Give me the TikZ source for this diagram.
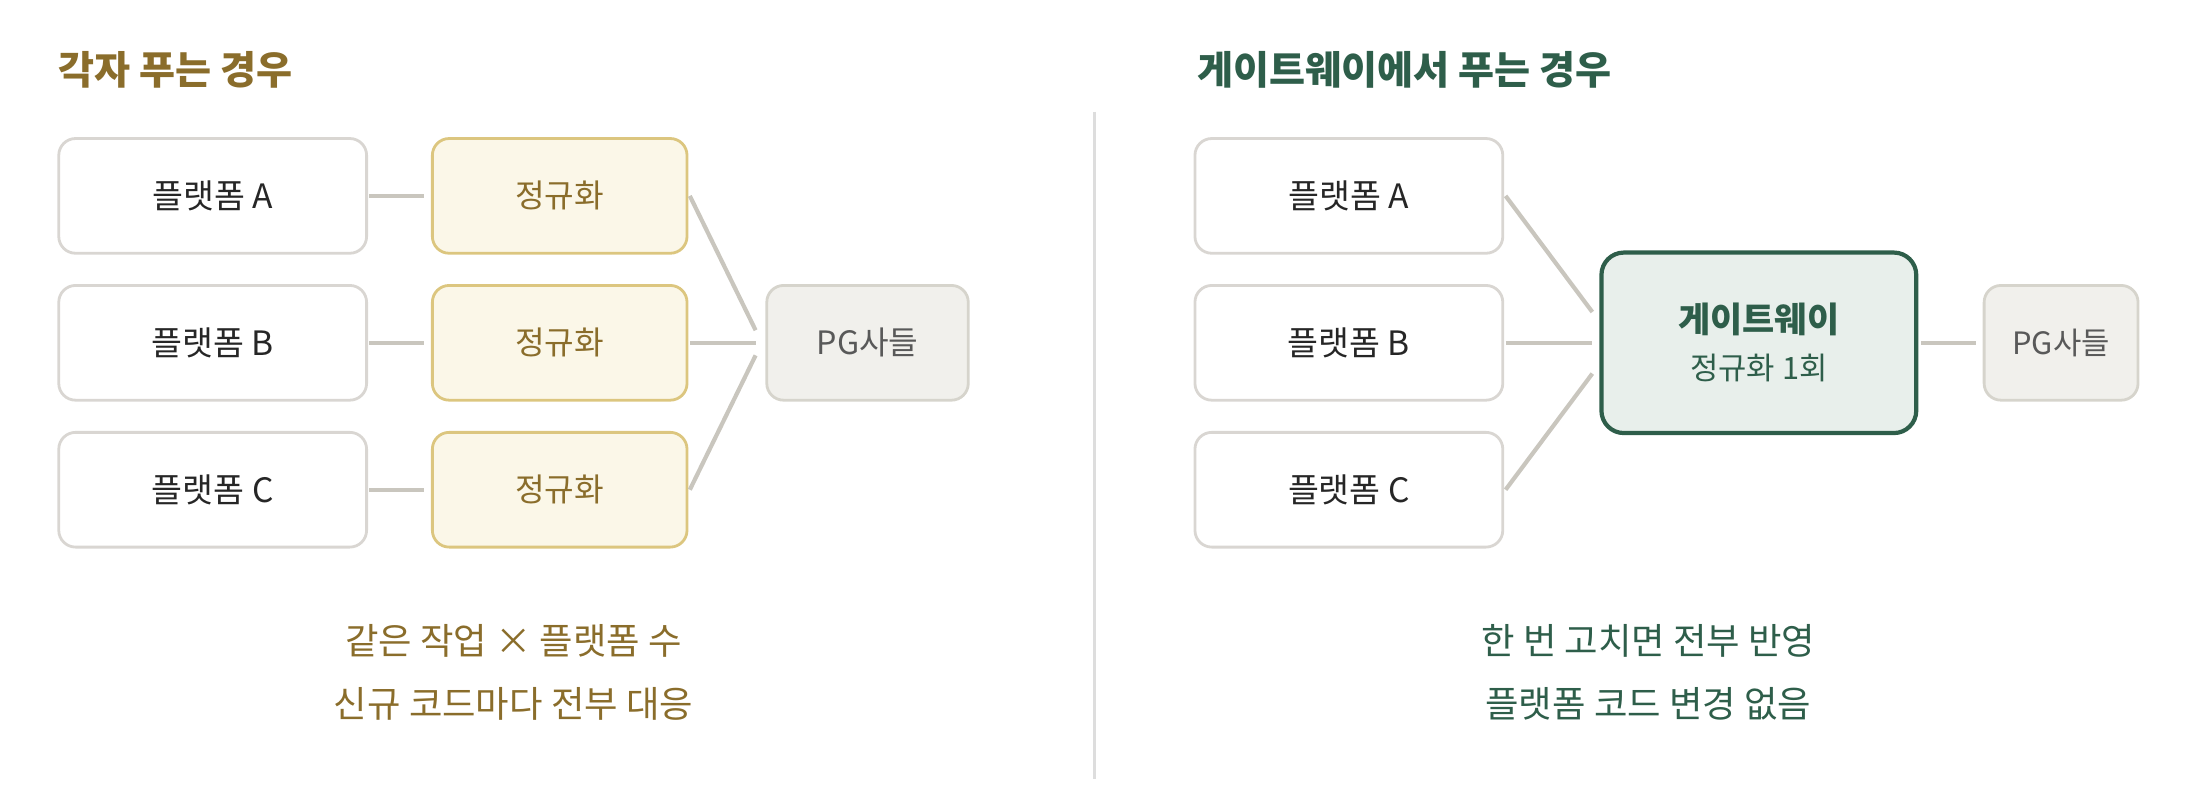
\documentclass[tikz,border=0pt]{standalone}
\usepackage{fontspec}
\setmainfont{Noto Sans CJK KR}
\usetikzlibrary{calc}
\definecolor{brn}{HTML}{8A6D2B}
\definecolor{grn}{HTML}{2E5E4A}
\definecolor{bd}{HTML}{D9D6D2}
\definecolor{ln}{HTML}{C9C6BE}
\definecolor{nbd}{HTML}{DCC67F}
\definecolor{nfl}{HTML}{FBF7E8}
\definecolor{pbd}{HTML}{D6D4CC}
\definecolor{pfl}{HTML}{F1F0EC}
\definecolor{gfl}{HTML}{E8EFEB}
\definecolor{dv}{HTML}{DDDDDD}
\begin{document}
\begin{tikzpicture}[x=1pt,y=-1pt,
 plat/.style={draw=bd,line width=2pt,fill=white,rounded corners=12pt,minimum width=220pt,minimum height=82pt,font=\fontsize{24}{28}\selectfont,text=black!85},
 norm/.style={draw=nbd,line width=2pt,fill=nfl,rounded corners=12pt,minimum width=182pt,minimum height=82pt,font=\fontsize{23}{28}\selectfont,text=brn},
 pg/.style={draw=pbd,line width=2pt,fill=pfl,rounded corners=12pt,minimum height=82pt,font=\fontsize{23}{28}\selectfont,text=black!65},
 con/.style={draw=ln,line width=3pt},
 ttl/.style={anchor=west,font=\fontsize{28}{32}\selectfont\bfseries},
 capt/.style={font=\fontsize{26}{32}\selectfont}]
\useasboundingbox (0,0) rectangle (1568,580);
% left
\node[ttl,text=brn] (t1) at (38,50) {각자 푸는 경우};
\node[plat] (a) at (152,140) {플랫폼 A};
\node[plat] (b) at (152,245) {플랫폼 B};
\node[plat] (c) at (152,350) {플랫폼 C};
\node[norm] (na) at (400,140) {정규화};
\node[norm] (nb) at (400,245) {정규화};
\node[norm] (nc) at (400,350) {정규화};
\node[pg,minimum width=144pt] (pg1) at (620,245) {PG사들};
\draw[con] ($(a.east)+(1,0)$) -- ($(na.west)+(-5,0)$);
\draw[con] ($(b.east)+(1,0)$) -- ($(nb.west)+(-5,0)$);
\draw[con] ($(c.east)+(1,0)$) -- ($(nc.west)+(-5,0)$);
\coordinate (p1a) at ($(pg1.west)+(-7,-9)$);
\coordinate (p1b) at ($(pg1.west)+(-7,0)$);
\coordinate (p1c) at ($(pg1.west)+(-7,9)$);
\draw[con] ($(na.east)+(1,0)$) -- (p1a);
\draw[con] ($(nb.east)+(1,0)$) -- (p1b);
\draw[con] ($(nc.east)+(1,0)$) -- (p1c);
\node[capt,text=brn] (c1) at (367,458) {같은 작업 × 플랫폼 수};
\node[capt,text=brn] (c2) at (367,503) {신규 코드마다 전부 대응};
% divider
\coordinate (d1) at (782,80); \coordinate (d2) at (782,557);
\draw[draw=dv,line width=2pt] (d1) -- (d2);
% right
\node[ttl,text=grn] (t2) at (852,50) {게이트웨이에서 푸는 경우};
\node[plat] (ra) at (964,140) {플랫폼 A};
\node[plat] (rb) at (964,245) {플랫폼 B};
\node[plat] (rc) at (964,350) {플랫폼 C};
\node[draw=grn,line width=3pt,fill=gfl,rounded corners=16pt,minimum width=225pt,minimum height=129pt,align=center,text=grn] (gw) at (1257,245) {{\fontsize{25}{30}\selectfont\bfseries 게이트웨이}\\[12pt]{\fontsize{22}{26}\selectfont 정규화 1회}};
\node[pg,minimum width=110pt,font=\fontsize{22}{28}\selectfont] (pg2) at (1473,245) {PG사들};
\coordinate (g1) at ($(gw.west)+(-5,-22)$);
\coordinate (g2) at ($(gw.west)+(-5,0)$);
\coordinate (g3) at ($(gw.west)+(-5,22)$);
\draw[con] ($(ra.east)+(1,0)$) -- (g1);
\draw[con] ($(rb.east)+(1,0)$) -- (g2);
\draw[con] ($(rc.east)+(1,0)$) -- (g3);
\draw[con] ($(gw.east)+(2,0)$) -- ($(pg2.west)+(-5,0)$);
\node[capt,text=grn] (c3) at (1178,458) {한 번 고치면 전부 반영};
\node[capt,text=grn] (c4) at (1178,503) {플랫폼 코드 변경 없음};
\end{tikzpicture}
\end{document}
